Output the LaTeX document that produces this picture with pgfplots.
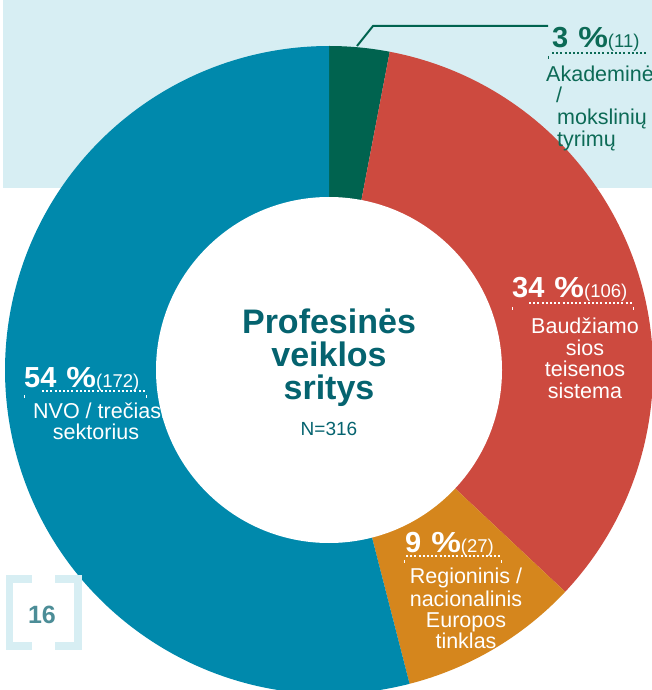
\documentclass[border=0pt]{standalone}
\usepackage{pgfplots}
\pgfplotsset{compat=1.18}
\usepackage{graphicx}
\usepackage{fontspec}
\setmainfont{Liberation Sans}
\definecolor{cblue}{HTML}{0089AC}
\definecolor{cgreen}{HTML}{00634F}
\definecolor{cred}{HTML}{CD4A3F}
\definecolor{corange}{HTML}{D5861D}
\definecolor{cbg}{HTML}{D7EEF3}
\definecolor{cteal}{HTML}{05636F}
\definecolor{cgtext}{HTML}{0C6A56}
\definecolor{cnum}{HTML}{4C8D97}
% slice shares (percent, as drawn in the chart)
\def\pA{3}\def\pB{34}\def\pC{9}\def\pD{54}
\pgfmathsetmacro\Ptot{\pA+\pB+\pC+\pD}
\pgfmathsetmacro\aA{90}
\pgfmathsetmacro\aB{90-360/\Ptot*\pA}
\pgfmathsetmacro\aC{90-360/\Ptot*(\pA+\pB)}
\pgfmathsetmacro\aD{90-360/\Ptot*(\pA+\pB+\pC)}
\pgfmathsetmacro\aE{90-360/\Ptot*(\pA+\pB+\pC+\pD)}
\newcommand\pct[2]{{\fontsize{29bp}{33bp}\selectfont\bfseries #1\hspace{10bp}\scalebox{1.15}[1]{\%}}{\fontsize{18.5bp}{22bp}\selectfont(#2)}}
\newcommand\lab{\fontsize{21.5bp}{24bp}\selectfont}
\begin{document}
\begin{tikzpicture}
\useasboundingbox (0,0) rectangle (652bp,690bp);
\clip (0,0) rectangle (652bp,690bp);
\begin{axis}[
  at={(0,0)}, anchor=south west,
  scale only axis, width=652bp, height=690bp,
  xmin=0, xmax=652, ymin=0, ymax=690,
  hide axis, clip=false,
]
% background panel
\fill[cbg] (axis cs:3,690) rectangle (axis cs:652,502);
% wedges
\fill[cgreen] (axis cs:329,320) -- ++(\aA:324bp) arc[start angle=\aA, end angle=\aB, radius=324bp] -- cycle;
\fill[cred] (axis cs:329,320) -- ++(\aB:324bp) arc[start angle=\aB, end angle=\aC, radius=324bp] -- cycle;
\fill[corange] (axis cs:329,320) -- ++(\aC:324bp) arc[start angle=\aC, end angle=\aD, radius=324bp] -- cycle;
\fill[cblue] (axis cs:329,320) -- ++(\aD:324bp) arc[start angle=\aD, end angle=\aE, radius=324bp] -- cycle;
% leader line for 3 %
\draw[cgreen, line width=2bp] (axis cs:357,644) -- (axis cs:373,664) -- (axis cs:548,664);
% labels
\node[anchor=base west, inner sep=0, text=cgtext] at (axis cs:552,642) {\pct{3}{11}};
\draw[cgtext, line width=1.6bp, dash pattern=on 2bp off 2.2bp] (axis cs:552,637) -- (axis cs:648,637);
\draw[cgtext, line width=0.8bp] (axis cs:548,634) -- (axis cs:548,631);
\node[anchor=base west, inner sep=0, text=cgtext] at (axis cs:546,608) {\lab Akademinė};
\node[anchor=base west, inner sep=0, text=cgtext] at (axis cs:556,587) {\lab /};
\node[anchor=base west, inner sep=0, text=cgtext] at (axis cs:557,565) {\lab mokslinių};
\node[anchor=base west, inner sep=0, text=cgtext] at (axis cs:557,543) {\lab tyrimų};

\node[anchor=base west, inner sep=0, text=white] at (axis cs:512,392) {\pct{34}{106}};
\draw[white, line width=1.6bp, dash pattern=on 2bp off 2.2bp] (axis cs:529,387) -- (axis cs:632,387);
\draw[white, line width=0.8bp] (axis cs:512,383) -- (axis cs:512,380);
\draw[white, line width=0.8bp] (axis cs:633,383) -- (axis cs:633,380);
\node[anchor=base, inner sep=0, text=white] at (axis cs:585,357) {\lab Baudžiamo};
\node[anchor=base, inner sep=0, text=white] at (axis cs:585,335) {\lab sios};
\node[anchor=base, inner sep=0, text=white] at (axis cs:585,314) {\lab teisenos};
\node[anchor=base, inner sep=0, text=white] at (axis cs:585,292) {\lab sistema};

\node[anchor=base west, inner sep=0, text=white] at (axis cs:405,138) {\pct{9}{27}};
\draw[white, line width=1.6bp, dash pattern=on 2bp off 2.2bp] (axis cs:406,134) -- (axis cs:500,134);
\draw[white, line width=0.8bp] (axis cs:404,130) -- (axis cs:404,127);
\draw[white, line width=0.8bp] (axis cs:501,130) -- (axis cs:501,127);
\node[anchor=base, inner sep=0, text=white] at (axis cs:466,107) {\lab Regioninis /};
\node[anchor=base, inner sep=0, text=white] at (axis cs:466,84) {\lab nacionalinis};
\node[anchor=base, inner sep=0, text=white] at (axis cs:466,63) {\lab Europos};
\node[anchor=base, inner sep=0, text=white] at (axis cs:466,42) {\lab tinklas};

\node[anchor=base west, inner sep=0, text=white] at (axis cs:24,303) {\pct{54}{172}};
\draw[white, line width=1.6bp, dash pattern=on 2bp off 2.2bp] (axis cs:42,299) -- (axis cs:146,299);
\draw[white, line width=0.8bp] (axis cs:24,295) -- (axis cs:24,292);
\draw[white, line width=0.8bp] (axis cs:146,295) -- (axis cs:146,292);
\node[anchor=base west, inner sep=0, text=white] at (axis cs:33,272) {\lab NVO / trečiasis};
\node[anchor=base, inner sep=0, text=white] at (axis cs:96,251) {\lab sektorius};
% hole
\fill[white] (axis cs:329,320) circle[radius=173bp];
% centre text
\node[anchor=base, inner sep=0, text=cteal] at (axis cs:329,357) {\fontsize{34bp}{38bp}\selectfont\bfseries Profesinės};
\node[anchor=base, inner sep=0, text=cteal] at (axis cs:329,324) {\fontsize{34bp}{38bp}\selectfont\bfseries veiklos};
\node[anchor=base, inner sep=0, text=cteal] at (axis cs:329,291) {\fontsize{34bp}{38bp}\selectfont\bfseries sritys};
\node[anchor=base, inner sep=0, text=cteal] at (axis cs:329,255) {\fontsize{19bp}{22bp}\selectfont N=316};
% page number box
\fill[cbg] (axis cs:6,115) rectangle (axis cs:13,40);
\fill[cbg] (axis cs:6,115) rectangle (axis cs:32,107);
\fill[cbg] (axis cs:6,48) rectangle (axis cs:32,40);
\fill[cbg] (axis cs:74,115) rectangle (axis cs:82,40);
\fill[cbg] (axis cs:55,115) rectangle (axis cs:82,107);
\fill[cbg] (axis cs:55,48) rectangle (axis cs:82,40);
\node[anchor=base, inner sep=0, text=cnum] at (axis cs:42,67) {\fontsize{25bp}{28bp}\selectfont\bfseries 16};
\end{axis}
\end{tikzpicture}
\end{document}
